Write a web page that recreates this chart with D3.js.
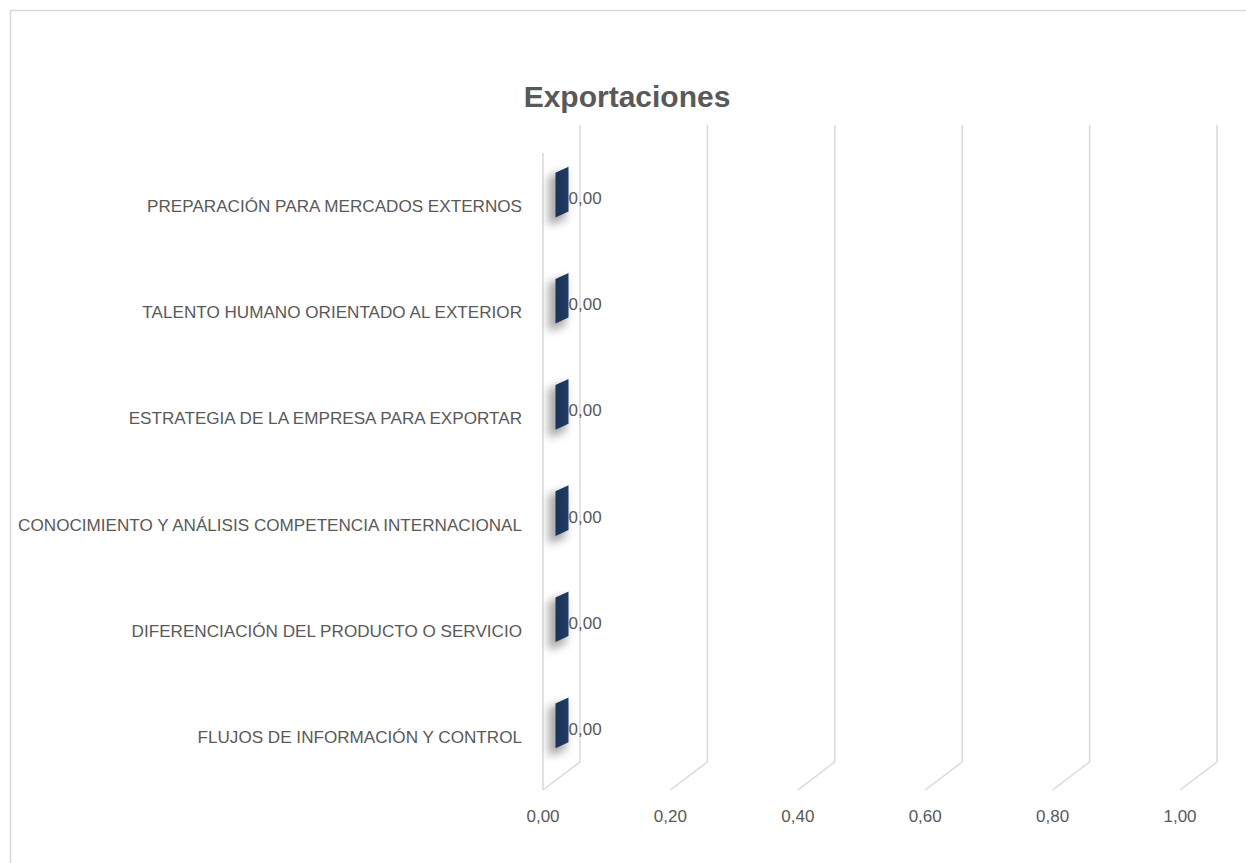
<!DOCTYPE html>
<html>
<head>
<meta charset="utf-8">
<script src="https://cdn.jsdelivr.net/npm/d3@7"></script>
<style>
  html, body { margin: 0; padding: 0; background: #ffffff; }
  svg { display: block; }
  text { font-family: "Liberation Sans", "DejaVu Sans", sans-serif; fill: #595959; }
</style>
</head>
<body>
<svg id="chart" width="1246" height="863"></svg>
<script>
// Indicator names, listed top to bottom
const categories = [
  "PREPARACIÓN PARA MERCADOS EXTERNOS",
  "TALENTO HUMANO ORIENTADO AL EXTERIOR",
  "ESTRATEGIA DE LA EMPRESA PARA EXPORTAR",
  "CONOCIMIENTO Y ANÁLISIS COMPETENCIA INTERNACIONAL",
  "DIFERENCIACIÓN DEL PRODUCTO O SERVICIO",
  "FLUJOS DE INFORMACIÓN Y CONTROL"
];
const values = [0, 0, 0, 0, 0, 0];
const ticks = [0, 0.2, 0.4, 0.6, 0.8, 1.0];
const title = "Exportaciones";

const fmt = v => d3.format(".2f")(v).replace(".", ",");

const svg = d3.select("#chart");

// Chart frame
svg.append("path")
  .attr("d", "M10.5,863 L10.5,10.5 L1246,10.5")
  .attr("fill", "none")
  .attr("stroke", "#d9d9d9")
  .attr("stroke-width", 1.5);

// Title
svg.append("text")
  .attr("x", 627).attr("y", 107)
  .attr("text-anchor", "middle")
  .style("font-size", "30px")
  .style("font-weight", "bold")
  .text(title);

// Back wall plane and depth offset of the 3D floor
const backTop = 125, backBottom = 762;
const depth = { dx: -37, dy: 28 };

const x = d3.scaleLinear().domain([0, 1]).range([580, 1217]);
const y = d3.scaleBand().domain(categories).range([backTop, backBottom]);

const grid = svg.append("g")
  .attr("fill", "none")
  .attr("stroke", "#d9d9d9")
  .attr("stroke-width", 1.5);

// Gridlines: vertical on the back wall, then diagonal across the floor
ticks.forEach(t => {
  const gx = x(t);
  grid.append("path")
    .attr("d", `M${gx},${backTop} L${gx},${backBottom} L${gx + depth.dx},${backBottom + depth.dy}`);
});
// Front edge of the side wall
grid.append("path")
  .attr("d", `M${x(0) + depth.dx},${backTop + depth.dy} L${x(0) + depth.dx},${backBottom + depth.dy}`);

// Value axis labels, under the front edge of the floor
svg.append("g").selectAll("text")
  .data(ticks)
  .join("text")
  .attr("x", d => x(d) + depth.dx)
  .attr("y", 822)
  .attr("text-anchor", "middle")
  .style("font-size", "17px")
  .text(d => fmt(d));

// Category labels, aligned with the front of each band
const catG = svg.append("g");
catG.selectAll("text")
  .data(categories)
  .join("text")
  .attr("x", 522)
  .attr("y", d => y(d) + y.bandwidth() / 2 + depth.dy + 6)
  .attr("text-anchor", "end")
  .style("font-size", "16px")
  .text(d => d);
// size labels so the longest one fills its reserved width
let maxW = 0;
catG.selectAll("text").each(function () { maxW = Math.max(maxW, this.getComputedTextLength()); });
if (maxW > 0) {
  const fs = Math.min(17.5, 16 * 504 / maxW);
  catG.selectAll("text").style("font-size", fs + "px");
}

const defs = svg.append("defs");
// Blur used for the soft shadow under each bar
defs.append("filter").attr("id", "soft")
  .attr("x", "-100%").attr("y", "-50%").attr("width", "300%").attr("height", "200%")
  .append("feGaussianBlur").attr("stdDeviation", 4);

const grad = defs.append("linearGradient").attr("id", "barFill")
  .attr("x1", "0").attr("y1", "0").attr("x2", "1").attr("y2", "0");
grad.append("stop").attr("offset", "0%").attr("stop-color", "#1a3256");
grad.append("stop").attr("offset", "100%").attr("stop-color", "#213c65");

// Bars: a minimum-thickness 3D block sitting mid-depth in each band
const barH = y.bandwidth() * 0.42;
const barW = 13;
const skew = 6;
function barPath(d, grow, ox, oy) {
  const cy = y(d.c) + y.bandwidth() / 2 + depth.dy / 2 + oy;
  const xr = x(d.v) + depth.dx / 2 + 7 + ox + grow;
  const xl = xr - barW - 2 * grow;
  const h = barH + 2 * grow;
  return `M${xl},${cy - h / 2 + skew / 2} L${xr},${cy - h / 2 - skew / 2} ` +
         `L${xr},${cy + h / 2 - skew / 2} L${xl},${cy + h / 2 + skew / 2} Z`;
}
const barData = categories.map((c, i) => ({ c, v: values[i] }));

svg.append("g").selectAll("path")
  .data(barData)
  .join("path")
  .attr("filter", "url(#soft)")
  .attr("fill", "#8c8c8c")
  .attr("opacity", 0.75)
  .attr("d", d => barPath(d, 2, -5, 6));

svg.append("g").selectAll("path")
  .data(barData)
  .join("path")
  .attr("fill", "url(#barFill)")
  .attr("d", d => barPath(d, 0, 0, 0));

// Data labels
svg.append("g").selectAll("text")
  .data(barData)
  .join("text")
  .attr("x", d => x(d.v) + depth.dx / 2 + 7)
  .attr("y", d => y(d.c) + y.bandwidth() / 2 + depth.dy / 2 + 12)
  .style("font-size", "17px")
  .text(d => fmt(d.v));
</script>
</body>
</html>
